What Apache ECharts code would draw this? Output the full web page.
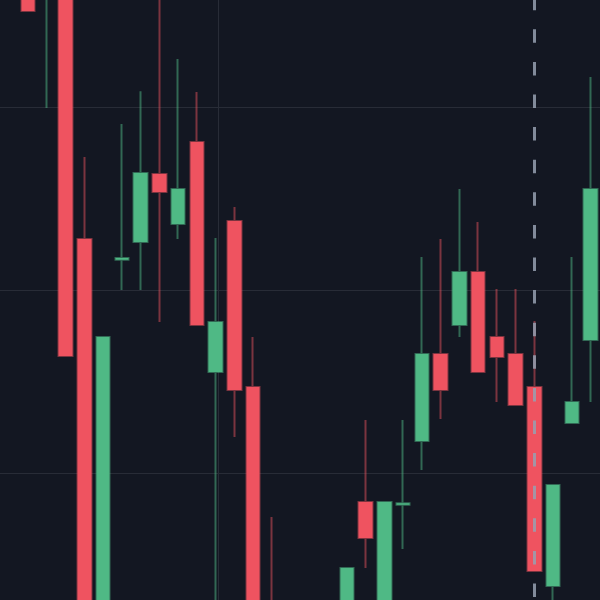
<!DOCTYPE html>
<html>
<head>
<meta charset="utf-8">
<script src="https://cdn.jsdelivr.net/npm/echarts@6/dist/echarts.min.js"></script>
<style>
html,body{margin:0;padding:0;background:#131722;}
#chart{width:600px;height:600px;}
</style>
</head>
<body>
<div id="chart"></div>
<script>
// Categories (sessions)
const categories = ['1','2','3','4','5','6','7','8','9','10','11','12','13','14','15','16',
  '17','18','19','20','21','22','23','24','25','26','27','28','29','30','31','32'];
// OHLC values
const openVals  = [46.5, 47.5, 46.2, 46.5, 32.79, 12.0, 31.65, 32.62, 36.34, 33.61, 38.09, 25.52, 33.77, 24.70, 12.8, 12.5,
  11.0, 11.5, 12.0, 18.42, 12.0, 18.27, 21.75, 26.50, 28.09, 30.98, 27.43, 26.50, 24.70, 13.83, 22.73, 27.27];
const closeVals = [48.5, 45.25, 47.8, 26.39, 12.5, 27.43, 31.75, 36.39, 35.36, 35.52, 28.09, 28.25, 24.54, 12.0, 11.5, 11.2,
  12.2, 12.8, 14.81, 16.45, 18.42, 18.35, 26.50, 24.54, 30.98, 25.52, 26.34, 23.72, 14.64, 19.34, 23.88, 35.52];
const lowVals   = [46.2, 45.25, 39.95, 26.39, 11.5, 11.0, 30.0, 30.0, 28.25, 32.79, 28.09, 11.0, 21.97, 11.5, 11.0, 10.5,
  10.6, 11.2, 11.5, 14.81, 11.5, 15.85, 20.16, 22.95, 27.43, 25.52, 23.88, 23.72, 14.64, 12.5, 22.73, 23.88];
const highVals  = [49.0, 48.0, 48.5, 47.0, 37.27, 27.43, 39.07, 40.87, 46.0, 42.62, 40.82, 32.84, 34.54, 27.43, 17.60, 12.8,
  12.5, 12.9, 14.81, 22.90, 18.42, 22.90, 31.80, 32.79, 35.52, 33.72, 30.05, 30.05, 28.31, 19.34, 31.80, 41.64];
const priceLevels = [20, 30, 40];   // horizontal grid levels
const yMin = 13.06, yMax = 45.85;   // visible price window
const crosshairIndex = 28;          // dashed marker category
const gridXValue = 11.63;           // vertical grid line position (category units)

const ohlc = categories.map((c, i) => [openVals[i], closeVals[i], lowVals[i], highVals[i]]);

const chart = echarts.init(document.getElementById('chart'), null, {renderer: 'canvas'});
chart.setOption({
  backgroundColor: '#131722',
  animation: false,
  grid: {left: 0, right: 0, top: 0, bottom: 0},
  xAxis: [
    {type: 'category', data: categories, boundaryGap: true, show: false},
    {type: 'value', min: 0, max: categories.length, show: false}
  ],
  yAxis: {
    type: 'value', min: yMin, max: yMax, show: false,
    splitLine: {show: false}
  },
  series: [
    {
      type: 'line', xAxisIndex: 1, data: [], z: 1, silent: true,
      markLine: {
        z: 1, silent: true, symbol: ['none', 'none'], label: {show: false},
        lineStyle: {color: '#282c37', width: 1, type: 'solid'},
        data: priceLevels.map(v => ({yAxis: v})).concat([{xAxis: gridXValue}])
      }
    },
    {
      type: 'candlestick', z: 3,
      data: ohlc,
      barWidth: 14,
      clip: true,
      itemStyle: {
        color: '#4fb985',
        color0: '#ef5360',
        borderColor: 'rgba(79,185,133,0.5)',
        borderColor0: 'rgba(239,83,96,0.48)',
        borderColorDoji: 'rgba(79,185,133,0.5)',
        borderWidth: 2
      },
      markLine: {
        silent: true, symbol: ['none', 'none'], label: {show: false},
        lineStyle: {color: 'rgba(150,160,176,0.85)', width: 3, type: [13.5, 19.1], dashOffset: 29.6},
        data: [{xAxis: crosshairIndex}]
      }
    }
  ]
});
</script>
</body>
</html>
